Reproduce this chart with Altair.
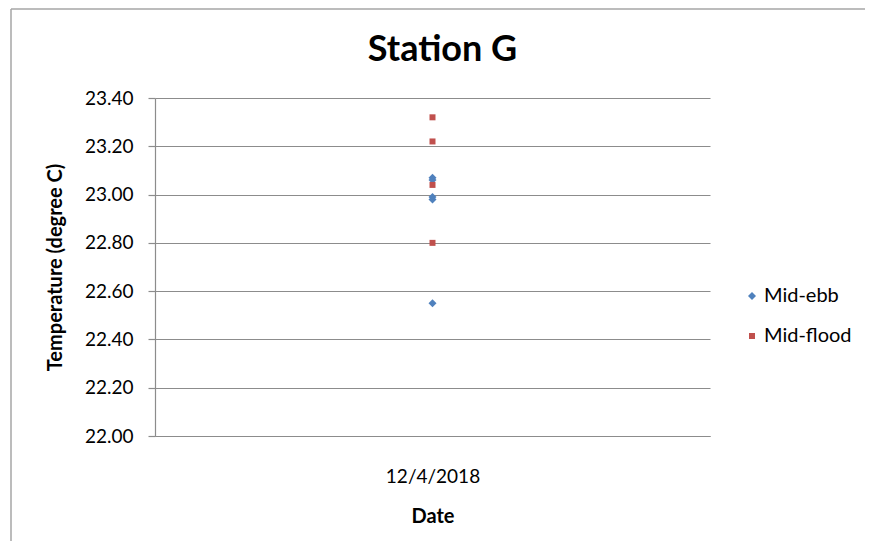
import altair as alt
import pandas as pd

# ---- data ----
date_label = "12/4/2018"
series_names = ["Mid-ebb", "Mid-flood"]
mid_ebb = [23.07, 23.06, 22.99, 22.98, 22.55]
mid_flood = [23.32, 23.22, 23.04, 22.80]
y_ticks = [22.00, 22.20, 22.40, 22.60, 22.80, 23.00, 23.20, 23.40]

rows = [{"date": date_label, "series": "Mid-ebb", "temp": v} for v in mid_ebb] + \
       [{"date": date_label, "series": "Mid-flood", "temp": v} for v in mid_flood]
df = pd.DataFrame(rows)

FONT = "Lato"
LINE = "#8C8C8C"
W, H = 555, 338

legend = alt.Legend(
    title=None, orient="none", legendX=587, legendY=188,
    labelFont=FONT, labelFontSize=20, labelColor="black",
    padding=0, rowPadding=20, labelOffset=2, symbolStrokeWidth=0,
)

points = alt.Chart(df).mark_point(filled=True, opacity=1, strokeWidth=0).encode(
    x=alt.X("date:N", scale=alt.Scale(type="point", padding=0.5),
            axis=alt.Axis(title="Date", labelAngle=0, ticks=False, tickSize=0, grid=False,
                          labelFont=FONT, labelFontSize=19, labelColor="black",
                          labelBaseline="alphabetic", labelPadding=46,
                          titleFont=FONT, titleFontSize=20, titleFontWeight="bold",
                          titleColor="black", titleX=W / 2, titleY=86,
                          titleBaseline="alphabetic",
                          domainColor=LINE, domainWidth=1.2)),
    y=alt.Y("temp:Q", scale=alt.Scale(domain=[22.0, 23.4], nice=False, zero=False),
            axis=alt.Axis(title="Temperature (degree C)", values=y_ticks, format=".2f",
                          labelFont=FONT, labelFontSize=19, labelColor="black",
                          labelPadding=15, tickSize=7, tickColor=LINE, tickWidth=1.2,
                          grid=True, gridColor=LINE, gridWidth=1.2,
                          domainColor=LINE, domainWidth=1.2,
                          titleFont=FONT, titleFontSize=20, titleFontWeight="bold",
                          titleColor="black", titleX=-94, titleY=H / 2,
                          titleBaseline="alphabetic")),
    color=alt.Color("series:N", scale=alt.Scale(domain=series_names,
                                                range=["#4F81BD", "#C0504D"]),
                    legend=legend),
    shape=alt.Shape("series:N", scale=alt.Scale(domain=series_names,
                                                range=["diamond", "square"]),
                    legend=legend),
    size=alt.Size("series:N", scale=alt.Scale(domain=series_names, range=[64, 36]),
                  legend=legend),
)

frame_df = pd.DataFrame({"k": [0]})
frame_left = alt.Chart(frame_df).mark_rule(color="#A6A6A6", strokeWidth=1.5).encode(
    x=alt.value(-144), y=alt.value(-89), y2=alt.value(443))
frame_top = alt.Chart(frame_df).mark_rule(color="#A6A6A6", strokeWidth=1.5).encode(
    y=alt.value(-89), x=alt.value(-144), x2=alt.value(710))

chart = alt.layer(frame_left, frame_top, points).properties(
    width=W, height=H,
    autosize=alt.AutoSizeParams(type="none"),
    padding={"left": 147, "top": 90, "right": 155, "bottom": 105},
    background="white",
    title=alt.TitleParams("Station G", font=FONT, fontSize=36, fontWeight="bold",
                          anchor="middle", frame="group", offset=0, dy=89,
                          baseline="alphabetic", dx=10, color="black"),
).configure_view(stroke=None)

chart.save("out.html", embed_options={"renderer": "svg", "actions": False})
